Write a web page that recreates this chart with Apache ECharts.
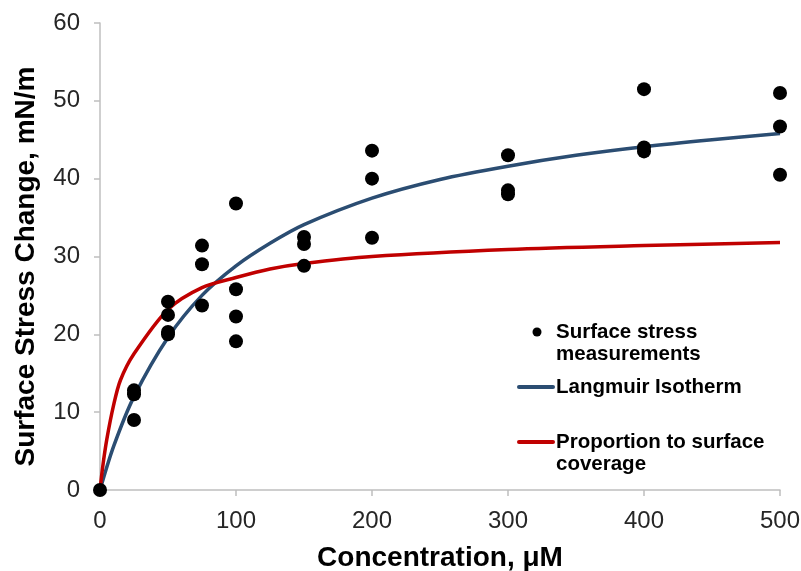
<!DOCTYPE html>
<html lang="en">
<head>
    <meta charset="UTF-8">
    <title>Surface stress vs concentration</title>
    <script src="https://cdn.jsdelivr.net/npm/echarts@6/dist/echarts.min.js"></script>
    <style type="text/css">
        html, body { margin: 0; padding: 0; background: #fff; }
        #chart { width: 801px; height: 571px; }
    </style>
</head>
<body>
<div id="chart"></div>
<script>
    // measured points [concentration uM, stress mN/m]
    var measured = [
        [0, 0],
        [25, 12.8], [25, 12.3], [25, 9.0],
        [50, 24.2], [50, 22.5], [50, 20.3], [50, 20.0],
        [75, 31.4], [75, 29.0], [75, 23.7],
        [100, 36.8], [100, 25.8], [100, 22.3], [100, 19.1],
        [150, 32.5], [150, 31.6], [150, 28.8],
        [200, 43.6], [200, 40.0], [200, 32.4],
        [300, 43.0], [300, 38.5], [300, 38.0],
        [400, 51.5], [400, 44.0], [400, 43.5],
        [500, 51.0], [500, 46.7], [500, 40.5]
    ];
    // fitted curves
    var langmuirX = [0, 10, 25, 50, 75, 100, 125, 150, 200, 250, 300, 350, 400, 450, 500];
    var langmuirY = [0, 5.6, 12.0, 19.6, 25.0, 28.8, 31.7, 34.1, 37.5, 39.9, 41.6, 43.0, 44.1, 45.0, 45.8];
    var coverageX = [0, 2, 5, 10, 15, 25, 50, 75, 100, 125, 150, 200, 300, 400, 500];
    var coverageY = [0, 3.0, 6.5, 10.9, 14.1, 17.5, 23.2, 26.0, 27.3, 28.4, 29.1, 30.0, 30.9, 31.4, 31.8];
    var xTicks = [0, 100, 200, 300, 400, 500];
    var yTicks = [0, 10, 20, 30, 40, 50, 60];
    var names = ['Surface stress\nmeasurements', 'Langmuir Isotherm', 'Proportion to surface\ncoverage'];

    function pairs(xs, ys) {
        return xs.map(function (x, i) { return [x, ys[i]]; });
    }

    var chart = echarts.init(document.getElementById('chart'));
    var blue = '#2b4d72', red = '#c00000';
    var axisFont = {fontFamily: 'Liberation Sans', fontSize: 24, color: '#262626'};
    var titleFont = {fontFamily: 'Liberation Sans', fontSize: 28, fontWeight: 'bold', color: '#000'};
    var legendFont = {fontFamily: 'Liberation Sans', fontSize: 20.5, fontWeight: 'bold', fill: '#000', lineHeight: 22, verticalAlign: 'top'};

    // legend drawn by hand so the marker sits on the first text line
    var legendTop = [321, 376, 431];
    var graphics = [
        {type: 'circle', shape: {cx: 537, cy: 332, r: 4.5}, style: {fill: '#000'}},
        {type: 'line', shape: {x1: 519, y1: 387, x2: 553, y2: 387}, style: {stroke: blue, lineWidth: 4, lineCap: 'round'}},
        {type: 'line', shape: {x1: 519, y1: 442, x2: 553, y2: 442}, style: {stroke: red, lineWidth: 4, lineCap: 'round'}}
    ];
    names.forEach(function (n, i) {
        graphics.push({type: 'text', left: 556, top: legendTop[i], style: Object.assign({text: n}, legendFont)});
    });

    var option = {
        animation: false,
        grid: {left: 100, right: 21, top: 23, bottom: 81, containLabel: false, outerBoundsMode: 'none'},
        xAxis: {
            type: 'value',
            min: xTicks[0], max: xTicks[xTicks.length - 1], interval: 100,
            name: 'Concentration, μM',
            nameLocation: 'middle',
            nameGap: 54,
            nameTextStyle: titleFont,
            axisLine: {lineStyle: {color: '#bfbfbf', width: 1.5}},
            axisTick: {show: true, length: 6, lineStyle: {color: '#bfbfbf', width: 1.5}},
            axisLabel: Object.assign({margin: 19}, axisFont),
            splitLine: {show: false}
        },
        yAxis: {
            type: 'value',
            min: yTicks[0], max: yTicks[yTicks.length - 1], interval: 10,
            name: 'Surface Stress Change, mN/m',
            nameLocation: 'middle',
            nameGap: 60,
            nameTextStyle: Object.assign({padding: [0, 20, 0, 0]}, titleFont),
            axisLine: {show: true, lineStyle: {color: '#bfbfbf', width: 1.5}},
            axisTick: {show: true, length: 6, lineStyle: {color: '#bfbfbf', width: 1.5}},
            axisLabel: Object.assign({margin: 20}, axisFont),
            splitLine: {show: false}
        },
        graphic: graphics,
        series: [
            {
                name: names[1],
                type: 'line',
                data: pairs(langmuirX, langmuirY),
                smooth: 0.3,
                showSymbol: false,
                lineStyle: {color: blue, width: 3.5},
                z: 2
            },
            {
                name: names[2],
                type: 'line',
                data: pairs(coverageX, coverageY),
                smooth: 0.3,
                showSymbol: false,
                lineStyle: {color: red, width: 3.5},
                z: 3
            },
            {
                name: names[0],
                type: 'scatter',
                data: measured,
                symbolSize: 14,
                itemStyle: {color: '#000', opacity: 1},
                z: 4
            }
        ]
    };
    chart.setOption(option);
</script>
</body>
</html>
